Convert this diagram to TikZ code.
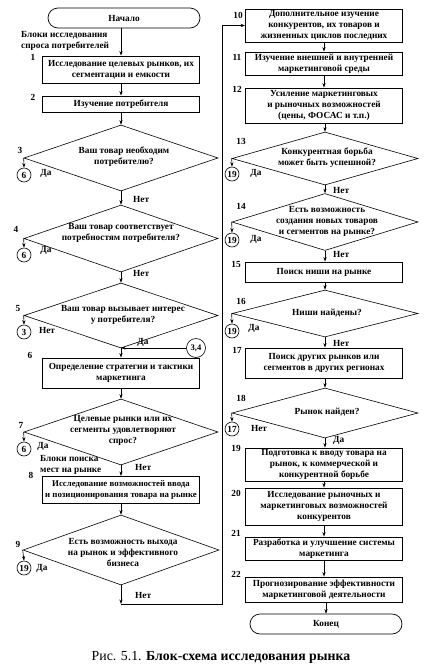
\documentclass[tikz,border=0pt]{standalone}
\usepackage{fontspec}
\setmainfont{Liberation Serif}
\usetikzlibrary{shapes.geometric,arrows.meta,calc}
\begin{document}
\begin{tikzpicture}[x=1pt,y=-1pt,
  every node/.style={font=\fontsize{9.3}{11}\selectfont\bfseries},
  box/.style={draw, line width=0.9pt, minimum width=157pt, inner sep=1pt, align=center},
  dia/.style={draw, shape=diamond, line width=0.6pt, inner sep=0pt, aspect=3},
  dtext/.style={align=center, inner sep=0pt},
  term/.style={draw, rounded corners=10pt, line width=0.7pt, minimum width=152pt, minimum height=20pt},
  conn/.style={draw, circle, line width=0.6pt, inner sep=0pt, minimum size=14pt},
  lbl/.style={inner sep=0pt},
  arr/.style={-{Stealth[length=4.5pt,width=3.2pt]}, line width=0.6pt}
]
\useasboundingbox[fill=white] (0,0) rectangle (431,670);

% ---------------- left column ----------------
\node[term] (start) at (124,18) {Начало};
\node[lbl, anchor=west, align=left] (blk1) at (21,41) {Блоки исследования\\спроса потребителей};
\node[box, minimum height=27pt] (b1) at (121,69.5) {Исследование целевых рынков, их\\сегментации и емкости};
\node[lbl] (n1) at (33,57) {1};
\node[box, minimum height=16pt] (b2) at (121,104) {Изучение потребителя};
\node[lbl] (n2) at (33,97) {2};

\node[dia, minimum width=194pt, minimum height=66pt] (d3) at (121,158) {};
\node[dtext] (t3) at (124,157) {Ваш товар необходим\\потребителю?};
\node[lbl] (n3) at (20,150) {3};
\node[conn] (c3) at (24,175) {6};
\node[lbl] (y3) at (46,173) {Да};
\node[lbl, anchor=west] (no3) at (133,199) {Нет};

\node[dia, minimum width=194pt, minimum height=67pt] (d4) at (121,238.5) {};
\node[dtext] (t4) at (121,233) {Ваш товар соответствует\\потребностям потребителя?};
\node[lbl] (n4) at (16,229) {4};
\node[conn] (c4) at (24,255) {6};
\node[lbl] (y4) at (46,250) {Да};
\node[lbl, anchor=west] (no4) at (133,273) {Нет};

\node[dia, minimum width=194pt, minimum height=65pt] (d5) at (121,315.5) {};
\node[dtext] (t5) at (123,315) {Ваш товар вызывает интерес\\у потребителя?};
\node[lbl] (n5) at (18,308) {5};
\node[conn] (c5) at (24,332) {3};
\node[lbl] (y5) at (47,330) {Нет};
\node[lbl] (no5) at (143,342) {Да};
\node[conn, minimum size=19pt, font=\fontsize{8.5}{9}\selectfont\bfseries] (c34) at (196,348) {3,4};

\node[box, minimum height=30pt] (b6) at (121,373) {Определение стратегии и тактики\\маркетинга};
\node[lbl] (n6) at (30,355) {6};

\node[dia, minimum width=194pt, minimum height=66pt] (d7) at (121,432) {};
\node[dtext] (t7) at (123,430) {Целевые рынки или их\\сегменты удовлетворяют\\спрос?};
\node[lbl] (n7) at (21,425) {7};
\node[conn] (c7) at (24,449) {6};
\node[lbl] (y7) at (43,446) {Да};
\node[lbl, anchor=west, align=left] (blk2) at (40,465) {Блоки поиска\\мест на рынке};
\node[lbl, anchor=west] (no7) at (135,467) {Нет};

\node[box, minimum height=27pt, line width=1.1pt, font=\fontsize{8.8}{10.5}\selectfont\bfseries] (b8) at (121,490) {Исследование возможностей ввода\\и позиционирования товара на рынке};
\node[lbl] (n8) at (31,475) {8};

\node[dia, minimum width=196pt, minimum height=70pt] (d9) at (121,550) {};
\node[dtext] (t9) at (123,552) {Есть возможность выхода\\на рынок и эффективного\\бизнеса};
\node[lbl] (n9) at (18,544) {9};
\node[conn] (c9) at (24,568) {19};
\node[lbl] (y9) at (42,568) {Да};
\node[lbl, anchor=west] (no9) at (135,595) {Нет};
\coordinate (corner) at (121,604);
\coordinate (loopB) at (222,604);

% ---------------- right column ----------------
\node[box, minimum height=33pt] (b10) at (324,25.5) {Дополнительное изучение\\конкурентов, их товаров и\\жизненных циклов последних};
\node[lbl] (n10) at (238,15) {10};
\node[box, minimum height=23pt] (b11) at (324,63.5) {Изучение внешней и внутренней\\маркетинговой среды};
\node[lbl] (n11) at (237,57) {11};
\node[box, minimum height=35pt] (b12) at (324,105.5) {Усиление маркетинговых\\и рыночных возможностей\\(цены, ФОСАС и т.п.)};
\node[lbl] (n12) at (237,89) {12};

\node[dia, minimum width=186pt, minimum height=53pt] (d13) at (325,158.5) {};
\node[dtext] (t13) at (327,158) {Конкурентная борьба\\может быть успешной?};
\node[lbl] (n13) at (241,141) {13};
\node[conn] (c13) at (232,174) {19};
\node[lbl] (y13) at (256,173) {Да};
\node[lbl, anchor=west] (no13) at (333,190) {Нет};

\node[dia, minimum width=186pt, minimum height=57pt] (d14) at (325,222) {};
\node[dtext] (t14) at (327,221) {Есть возможность\\создания новых товаров\\и сегментов на рынке?};
\node[lbl] (n14) at (241,206) {14};
\node[conn] (c14) at (232,240) {19};
\node[lbl] (y14) at (256,239) {Да};
\node[lbl, anchor=west] (no14) at (333,254) {Нет};

\node[box, minimum height=20pt] (b15) at (324,272) {Поиск ниши на рынке};
\node[lbl] (n15) at (236,264) {15};

\node[dia, minimum width=186pt, minimum height=47pt] (d16) at (325,313.5) {};
\node[dtext] (t16) at (327,313) {Ниши найдены?};
\node[lbl] (n16) at (241,301) {16};
\node[conn] (c16) at (232,331) {19};
\node[lbl] (y16) at (254,328) {Да};
\node[lbl, anchor=west] (no16) at (333,343) {Нет};

\node[box, minimum height=30pt] (b17) at (324,363) {Поиск других рынков или\\сегментов в других регионах};
\node[lbl] (n17) at (237,350) {17};

\node[dia, minimum width=186pt, minimum height=50pt] (d18) at (325,413) {};
\node[dtext] (t18) at (327,412) {Рынок найден?};
\node[lbl] (n18) at (241,398) {18};
\node[conn] (c18) at (232,429) {17};
\node[lbl] (y18) at (259,428) {Нет};
\node[lbl, anchor=west] (no18) at (333,440) {Да};

\node[box, minimum height=33pt] (b19) at (324,464.5) {Подготовка к вводу товара на\\рынок, к коммерческой и\\конкурентной борьбе};
\node[lbl] (n19) at (236,448) {19};
\node[box, minimum height=37pt] (b20) at (324,506.5) {Исследование рыночных и\\маркетинговых возможностей\\конкурентов};
\node[lbl] (n20) at (236,493) {20};
\node[box, minimum height=23pt] (b21) at (324,548.5) {Разработка и улучшение системы\\маркетинга};
\node[lbl] (n21) at (236,533) {21};
\node[box, minimum height=25pt] (b22) at (324,589.5) {Прогнозирование эффективности\\маркетинговой деятельности};
\node[lbl] (n22) at (236,574) {22};
\node[term] (end) at (326,624) {Конец};

\node[lbl, font=\fontsize{13.8}{16}\selectfont] (cap) at (221,657) {Рис. 5.1. \textbf{Блок-схема исследования рынка}};

% ---------------- connectors ----------------
\draw[arr] (start.south -| b1.north) -- (b1.north);
\draw[arr] (b1.south) -- (b2.north);
\draw[arr] (b2.south) -- (d3.north);
\draw[arr] (d3.south) -- (d4.north);
\draw[arr] (d4.south) -- (d5.north);
\draw[arr] (d5.south) -- (b6.north);
\draw[arr] (c34.west) -- (c34.west -| d5.south);
\draw[arr] (b6.south) -- (d7.north);
\draw[arr] (d7.south) -- (b8.north);
\draw[arr] (b8.south) -- (d9.north);
\draw[arr] (d9.south) -- (corner);
\draw[arr] (corner) -- (loopB) |- (b10.west);

\draw[arr] (d3.west) -- (c3.north);
\draw[arr] (d4.west) -- (c4.north);
\draw[arr] (d5.west) -- (c5.north);
\draw[arr] (d7.west) -- (c7.north);
\draw[arr] (d9.west) -- (c9.north);

\draw[arr] (b10.south) -- (b11.north);
\draw[arr] (b11.south) -- (b12.north);
\draw[arr] (b12.south -| d13.north) -- (d13.north);
\draw[arr] (d13.south) -- (d14.north);
\draw[arr] (d14.south) -- (d14.south |- b15.north);
\draw[arr] (b15.south -| d16.north) -- (d16.north);
\draw[arr] (d16.south) -- (d16.south |- b17.north);
\draw[arr] (b17.south -| d18.north) -- (d18.north);
\draw[arr] (d18.south) -- (d18.south |- b19.north);
\draw[arr] (b19.south) -- (b20.north);
\draw[arr] (b20.south) -- (b21.north);
\draw[arr] (b21.south) -- (b22.north);
\draw[arr] (b22.south -| end.north) -- (end.north);

\draw[arr] (d13.west) -- (c13.north);
\draw[arr] (d14.west) -- (c14.north);
\draw[arr] (d16.west) -- (c16.north);
\draw[arr] (d18.west) -- (c18.north);
\end{tikzpicture}
\end{document}
